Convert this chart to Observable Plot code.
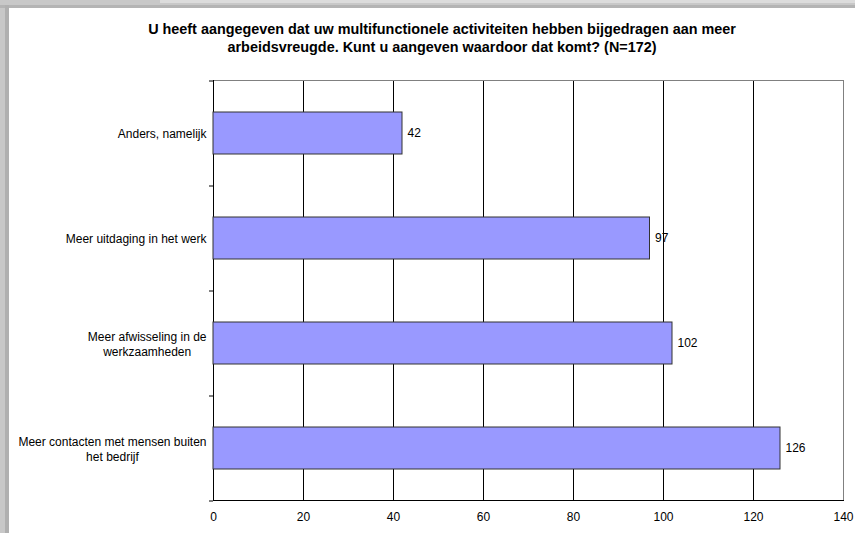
<!DOCTYPE html>
<html>
<head>
<meta charset="utf-8">
<script src="https://cdn.jsdelivr.net/npm/d3@7"></script>
<script src="https://cdn.jsdelivr.net/npm/@observablehq/plot@0.6"></script>
<style>
  html, body { margin: 0; padding: 0; }
  body { width: 855px; height: 533px; background: #c8c8c8; position: relative; overflow: hidden; font-family: "Liberation Sans", Arial, sans-serif; }
  #topstrip { position: absolute; left: 160px; top: 0; width: 695px; height: 3px; background: #dcdcdc; }
  #topline { position: absolute; left: 0; top: 5px; width: 855px; height: 3px; background: #b4b4b4; }
  #leftline { position: absolute; left: 5px; top: 5px; width: 4px; height: 528px; background: #b0b0b0; }
  #panel { position: absolute; left: 9px; top: 8px; width: 846px; height: 525px; background: #fff; }
  #title { box-sizing: border-box; height: 52px; padding-top: 13px; padding-left: 20px; text-align: center; font-weight: bold; font-size: 14.4px; line-height: 17.5px; color: #000; white-space: nowrap; }
  #chart svg { display: block; }
</style>
</head>
<body>
<div id="topstrip"></div>
<div id="topline"></div>
<div id="leftline"></div>
<div id="panel">
  <div id="title">U heeft aangegeven dat uw multifunctionele activiteiten hebben bijgedragen aan meer<br>arbeidsvreugde. Kunt u aangeven waardoor dat komt? (N=172)</div>
  <div id="chart"></div>
</div>
<script>
const categories = [
  "Anders, namelijk",
  "Meer uitdaging in het werk",
  "Meer afwisseling in de\nwerkzaamheden",
  "Meer contacten met mensen buiten\nhet bedrijf"
];
const values = [42, 97, 102, 126];
const xTicks = [0, 20, 40, 60, 80, 100, 120, 140];

const data = categories.map((c, i) => ({category: c, value: values[i]}));

const chart = Plot.plot({
  width: 846,
  height: 473,
  marginLeft: 204,
  marginRight: 12,
  marginTop: 20,
  marginBottom: 33,
  style: {fontFamily: "'Liberation Sans', Arial, sans-serif", fontSize: "12px", color: "#000", background: "transparent", overflow: "visible"},
  x: {domain: [0, 140], ticks: xTicks},
  y: {domain: categories, paddingInner: 0.6, paddingOuter: 0.3},
  marks: [
    Plot.ruleX(xTicks.slice(1, -1), {stroke: "#000", strokeWidth: 1}),
    Plot.frame({anchor: "top", stroke: "#808080"}),
    Plot.frame({anchor: "right", stroke: "#808080"}),
    Plot.frame({anchor: "left", stroke: "#000"}),
    Plot.frame({anchor: "bottom", stroke: "#000"}),
    Plot.ruleY(categories, {y: d => d, dy: -52.5, x1: 0, x2: 0, insetLeft: -4, stroke: "#000"}),
    Plot.ruleY(categories.slice(-1), {y: d => d, dy: 52.5, x1: 0, x2: 0, insetLeft: -4, stroke: "#000"}),
    Plot.barX(data, {x: "value", y: "category", fill: "#9999ff", stroke: "#333", strokeWidth: 1}),
    Plot.text(data, {x: "value", y: "category", text: d => String(d.value), dx: 5, textAnchor: "start", fill: "#000", fontSize: 12}),
    Plot.axisY({tickSize: 0, tickPadding: 7, label: null, lineHeight: 1.25, fill: "#000"}),
    Plot.axisX({tickSize: 0, tickPadding: 12, label: null, fill: "#000"})
  ]
});
document.getElementById("chart").appendChild(chart);

// center multi-line category labels within their right-aligned block (as in the source)
const ctx = document.createElement("canvas").getContext("2d");
ctx.font = "12px 'Liberation Sans', Arial, sans-serif";
chart.querySelectorAll("text").forEach(t => {
  const spans = Array.from(t.querySelectorAll("tspan"));
  if (spans.length > 1) {
    const widths = spans.map(s => ctx.measureText(s.textContent).width);
    const W = Math.max(...widths);
    t.setAttribute("text-anchor", "start");
    t.style.textAnchor = "start";
    spans.forEach((s, i) => {
      s.setAttribute("x", -(W + widths[i]) / 2);
      s.style.textAnchor = "start";
    });
  }
});
</script>
</body>
</html>
